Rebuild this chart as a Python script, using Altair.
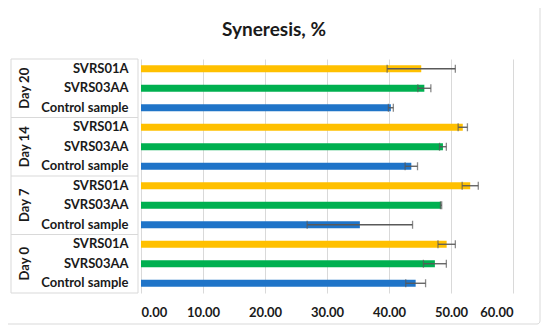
import altair as alt
import pandas as pd

days = ["Day 20", "Day 14", "Day 7", "Day 0"]
samples = ["SVRS01A", "SVRS03AA", "Control sample"]
colors = ["#FFC000", "#00B050", "#1F74C8"]

# values per day, in sample order
values = {
    "Day 20": [45.2, 45.7, 40.3],
    "Day 14": [51.9, 48.7, 43.6],
    "Day 7": [53.1, 48.4, 35.3],
    "Day 0": [49.3, 47.4, 44.3],
}
errors = {
    "Day 20": [5.5, 1.05, 0.4],
    "Day 14": [0.75, 0.55, 1.0],
    "Day 7": [1.3, 0.1, 8.5],
    "Day 0": [1.4, 1.85, 1.6],
}
x_ticks = [0, 10, 20, 30, 40, 50, 60]
title_text = "Syneresis, %"

rows = []
for d in days:
    for i, s in enumerate(samples):
        v = values[d][i]
        e = errors[d][i]
        rows.append({"row": f"{d}|{s}", "day": d, "sample": s,
                     "value": v, "lo": v - e, "hi": v + e})
df = pd.DataFrame(rows)
order = list(df["row"])

W, H = 372, 234
FONT = "Lato"
TXT = "#1a1a1a"
LINE = "#d9d9d9"
FS = 13

yscale = alt.Scale(paddingInner=0, paddingOuter=0)
Yenc = alt.Y("row:N", sort=order, scale=yscale)

bars = alt.Chart(df).mark_bar(height=7).encode(
    x=alt.X("value:Q", scale=alt.Scale(domain=[0, 60]),
            axis=alt.Axis(values=x_ticks, format=".2f", grid=True, gridColor=LINE,
                          ticks=False, domain=False, labelFont=FONT, labelFontSize=FS,
                          labelFontWeight="bold", labelColor=TXT, labelPadding=13,
                          title=None)),
    y=alt.Y("row:N", sort=order, scale=yscale,
            axis=alt.Axis(labelExpr="split(datum.label, '|')[1]", ticks=False, tickSize=0,
                          domain=False, grid=False, labelFont=FONT, labelFontSize=FS,
                          labelFontWeight="bold", labelColor=TXT, labelPadding=13,
                          labelOverlap=False, title=None)),
    color=alt.Color("sample:N", scale=alt.Scale(domain=samples, range=colors), legend=None),
)

err_line = alt.Chart(df).mark_rule(color="#595959", strokeWidth=1.3).encode(
    x="lo:Q", x2="hi:Q", y=Yenc)
cap_lo = alt.Chart(df).mark_tick(color="#595959", thickness=1.3, size=8).encode(
    x="lo:Q", y=Yenc)
cap_hi = alt.Chart(df).mark_tick(color="#595959", thickness=1.3, size=8).encode(
    x="hi:Q", y=Yenc)

# Day labels (rotated) at middle row of each group
mid = df[df["sample"] == samples[1]]
day_text = alt.Chart(mid).mark_text(angle=270, font=FONT, fontSize=FS, fontWeight="bold",
                                    color=TXT, align="center", baseline="middle").encode(
    x=alt.value(-116), y=Yenc, text="day:N")

# group separator lines in label box
tops = df[df["sample"] == samples[0]]
sep = alt.Chart(tops).mark_rule(color=LINE, strokeWidth=1).encode(
    x=alt.value(-130), x2=alt.value(-3),
    y=alt.Y("row:N", sort=order, scale=yscale, bandPosition=0))
one = pd.DataFrame({"k": [0]})
bottom = alt.Chart(one).mark_rule(color=LINE, strokeWidth=1).encode(
    x=alt.value(-130), x2=alt.value(-3), y=alt.value(H))
vleft = alt.Chart(one).mark_rule(color=LINE, strokeWidth=1).encode(
    x=alt.value(-130), y=alt.value(0), y2=alt.value(H))
vright = alt.Chart(one).mark_rule(color=LINE, strokeWidth=1).encode(
    x=alt.value(-3), y=alt.value(0), y2=alt.value(H))

frame = alt.Chart(one).mark_rect(fill="transparent", stroke=LINE, strokeWidth=1,
                                 cornerRadius=3).encode(
    x=alt.value(-137), x2=alt.value(399), y=alt.value(-54), y2=alt.value(265))

title = alt.Chart(pd.DataFrame({"t": [title_text]})).mark_text(
    font=FONT, fontSize=19, fontWeight="bold", color=TXT, align="center",
    baseline="middle").encode(x=alt.value(133), y=alt.value(-29), text="t:N")

chart = alt.layer(bars, frame, sep, bottom, vleft, vright, err_line, cap_lo, cap_hi,
                  day_text, title).properties(
    width=W, height=H,
    autosize=alt.AutoSizeParams(type="none"),
    padding={"left": 133, "top": 51, "right": 29, "bottom": 32},
    background="white",
).configure_view(strokeWidth=0)

chart.save("out.html", embed_options={"renderer": "svg", "actions": False})
